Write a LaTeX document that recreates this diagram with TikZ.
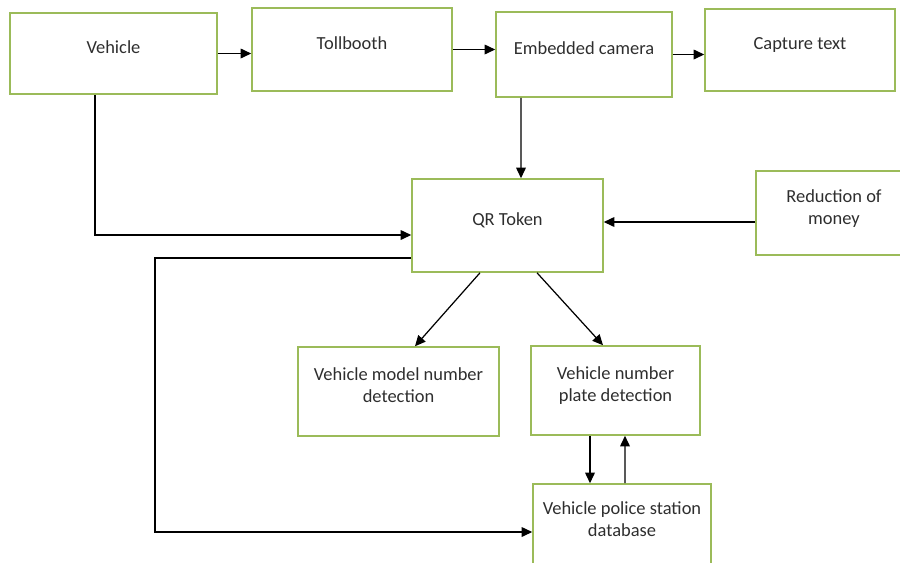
\documentclass[tikz,border=0pt]{standalone}
\usepackage{fontspec}
\setmainfont{Carlito}
\usetikzlibrary{arrows.meta,calc}
\definecolor{boxgreen}{HTML}{9BBB59}
\definecolor{txtgray}{HTML}{2E2E2E}
\begin{document}
\begin{tikzpicture}[x=0.02cm, y=-0.02cm,
  box/.style={draw=boxgreen, line width=0.9pt, inner sep=0pt, align=center,
              text=txtgray, font=\fontsize{10.5}{12.6}\selectfont, text depth=7pt},
  arr/.style={line width=0.7pt, -{Triangle[length=6pt,width=5.5pt]}}]
  \useasboundingbox (0,0) rectangle (900,562);
  \node[box, minimum width=4.14cm, minimum height=1.62cm] (veh) at (113.5,53.5) {Vehicle};
  \node[box, minimum width=4cm, minimum height=1.66cm] (toll) at (352,49.5) {Tollbooth};
  \node[box, minimum width=3.52cm, minimum height=1.7cm] (cam) at (584,54.5) {Embedded camera};
  \node[box, minimum width=3.8cm, minimum height=1.64cm] (cap) at (800,50) {Capture text};
  \node[box, minimum width=3.82cm, minimum height=1.86cm] (qr) at (507.5,225.5) {QR Token};
  \node[box, minimum width=3.12cm, minimum height=1.68cm] (red) at (834,213) {Reduction of\\money};
  \node[box, minimum width=4.02cm, minimum height=1.78cm] (model) at (398.5,391.5) {Vehicle model number\\detection};
  \node[box, minimum width=3.38cm, minimum height=1.78cm] (plate) at (615.5,390.5) {Vehicle number\\plate detection};
  \node[box, minimum width=3.56cm, minimum height=1.64cm] (pol) at (622,525) {Vehicle police station\\database};
  \coordinate (bend) at (155,400);
  \draw[arr] (veh.east) -- (veh.east -| toll.west);
  \draw[arr] (toll.east) -- (toll.east -| cam.west);
  \draw[arr] (cam.east) -- (cam.east -| cap.west);
  \draw[arr] ($(cam.south)+(-63,0)$) -- ($(qr.north)+(13.5,0)$);
  \draw[arr] ($(veh.south)+(-18.5,0)$) |- ($(qr.west)+(0,9.5)$);
  \draw[arr] ($(red.west)+(0,9)$) -- ($(qr.east)+(0,-3.5)$);
  \draw[arr] ($(qr.west)+(0,32.5)$) -| (bend) |- ($(pol.west)+(0,7)$);
  \draw[arr] ($(qr.south)+(-27.5,0)$) -- ($(model.north)+(16.5,0)$);
  \draw[arr] ($(qr.south)+(29.5,0)$) -- ($(plate.north)+(-12.5,0)$);
  \draw[arr] ($(plate.south)+(-25.5,0)$) -- ($(pol.north)+(-32,0)$);
  \draw[arr] ($(pol.north)+(3,0)$) -- ($(plate.south)+(9.5,0)$);
\end{tikzpicture}
\end{document}
